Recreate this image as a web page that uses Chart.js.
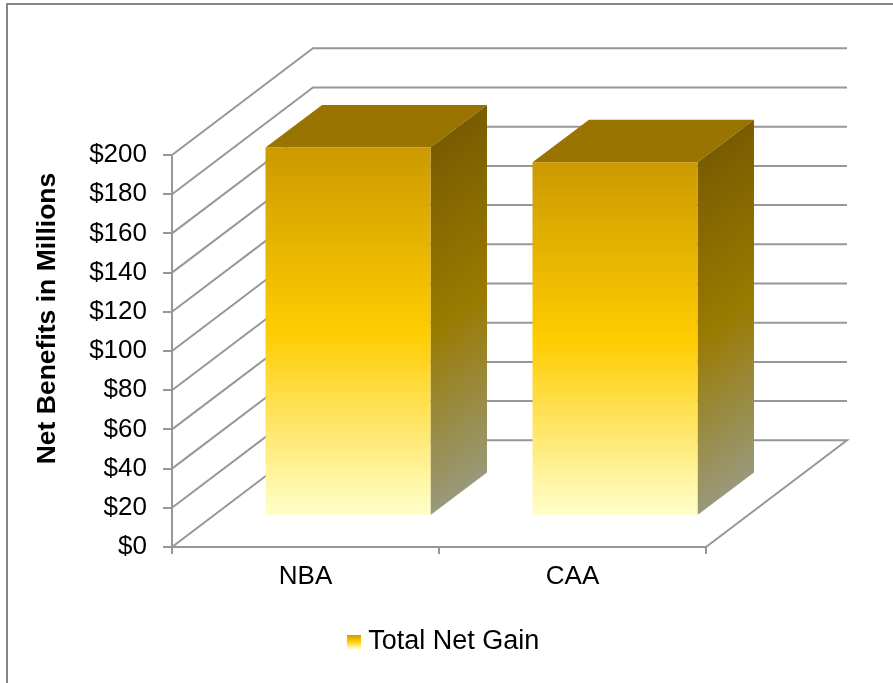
<!DOCTYPE html>
<html>
<head>
<meta charset="utf-8">
<title>Total Net Gain</title>
<script src="https://cdn.jsdelivr.net/npm/chart.js@4"></script>
<style>
  html, body { margin: 0; padding: 0; background: #fff; overflow: hidden; }
  #frame { position: absolute; left: 6px; top: 3px; right: 0; bottom: 0; border-left: 2px solid #868686; border-top: 2px solid #868686; }
  #myChart { position: absolute; left: 0; top: 0; }
</style>
</head>
<body>
<div id="frame"></div>
<canvas id="myChart" width="893" height="683"></canvas>
<script>
const categories = ['NBA', 'CAA'];
const netGain = [188, 180.5];
const seriesName = 'Total Net Gain';
const axisTitle = 'Net Benefits in Millions';

// 3D look of the old spreadsheet chart
const wallDepth = { x: 141, y: -106.7 };
const barShift = { x: 42.5, y: -31 };
const barDepth = { x: 56.5, y: -42.5 };
const gridColor = '#979797';
const labelFont = { family: '"Liberation Sans"', size: 26 };

function frontGradient(c, top, base) {
    const g = c.createLinearGradient(0, top, 0, base);
    g.addColorStop(0, '#cc9900');
    g.addColorStop(0.5, '#ffcc00');
    g.addColorStop(1, '#ffffcc');
    return g;
}

// legend swatch, the library draws it as a point style
const swatch = document.createElement('canvas');
swatch.width = 14;
swatch.height = 14;
const swatchCtx = swatch.getContext('2d');
swatchCtx.fillStyle = frontGradient(swatchCtx, 0, 14);
swatchCtx.fillRect(0, 0, 14, 14);

const walls = {
    id: 'walls',
    beforeDatasetsDraw(chart) {
        const c = chart.ctx;
        const area = chart.chartArea;
        const y = chart.scales.y;
        c.save();
        c.strokeStyle = gridColor;
        c.lineWidth = 2;
        y.ticks.forEach(t => {
            const py = y.getPixelForValue(t.value);
            c.beginPath();
            c.moveTo(area.left, py);
            c.lineTo(area.left + wallDepth.x, py + wallDepth.y);
            c.lineTo(area.right + wallDepth.x, py + wallDepth.y);
            if (t.value === 0) {
                c.lineTo(area.right, py);
            }
            c.stroke();
        });
        c.restore();
    }
};

const bars3d = {
    id: 'bars3d',
    beforeDatasetsDraw(chart) {
        const c = chart.ctx;
        const meta = chart.getDatasetMeta(0);
        c.save();
        // front faces are the library's own bars, moved the same way
        c.translate(barShift.x, barShift.y);
        meta.data.forEach(bar => {
            const p = bar.getProps(['x', 'y', 'base', 'width'], true);
            const right = p.x + p.width / 2;
            const left = p.x - p.width / 2;

            // top face
            c.fillStyle = '#997400';
            c.beginPath();
            c.moveTo(left, p.y);
            c.lineTo(left + barDepth.x, p.y + barDepth.y);
            c.lineTo(right + barDepth.x, p.y + barDepth.y);
            c.lineTo(right, p.y);
            c.closePath();
            c.fill();

            // side face, bands run parallel to the top edge
            const h = p.base - p.y;
            const sx = right + barDepth.x / 2;
            const sy = p.y + barDepth.y / 2;
            const side = c.createLinearGradient(sx, sy, sx + h * 0.48, sy + h * 0.64);
            side.addColorStop(0, '#7a5c00');
            side.addColorStop(0.5, '#997a00');
            side.addColorStop(1, '#99997a');
            c.fillStyle = side;
            c.beginPath();
            c.moveTo(right, p.y);
            c.lineTo(right + barDepth.x, p.y + barDepth.y);
            c.lineTo(right + barDepth.x, p.base + barDepth.y);
            c.lineTo(right, p.base);
            c.closePath();
            c.fill();
        });
    },
    afterDatasetsDraw(chart) {
        chart.ctx.restore();
    }
};

// axis title sits above the middle of the axis, the scale title can't do that
const yTitle = {
    id: 'yTitle',
    afterDraw(chart) {
        const c = chart.ctx;
        c.save();
        c.translate(48, 318.5);
        c.rotate(-Math.PI / 2);
        c.font = 'bold 26.5px "Liberation Sans"';
        c.fillStyle = '#000';
        c.textAlign = 'center';
        c.textBaseline = 'middle';
        c.fillText(axisTitle, 0, 0);
        c.restore();
    }
};

new Chart(document.getElementById('myChart').getContext('2d'), {
    type: 'bar',
    data: {
        labels: categories,
        datasets: [{
            label: seriesName,
            data: netGain,
            barPercentage: 0.618,
            categoryPercentage: 1,
            backgroundColor(ctx) {
                const chart = ctx.chart;
                if (!chart.chartArea || !ctx.parsed) return '#ffcc00';
                const y = chart.scales.y;
                return frontGradient(chart.ctx, y.getPixelForValue(ctx.parsed.y), y.getPixelForValue(0));
            }
        }]
    },
    plugins: [walls, bars3d, yTitle],
    options: {
        responsive: false,
        animation: false,
        layout: { padding: { top: 155, bottom: 18 } },
        plugins: {
            tooltip: { enabled: false },
            legend: {
                position: 'bottom',
                labels: {
                    color: '#000',
                    font: { family: '"Liberation Sans"', size: 27 },
                    usePointStyle: true,
                    pointStyle: swatch,
                    pointStyleWidth: 1,
                    boxHeight: 14,
                    padding: 10
                }
            }
        },
        scales: {
            x: {
                offset: true,
                grid: { drawOnChartArea: false, color: gridColor, lineWidth: 2, tickLength: 7 },
                border: { color: gridColor, width: 2 },
                ticks: { color: '#000', font: labelFont, padding: 7 },
                afterFit(s) { s.height = 71; }
            },
            y: {
                min: 0,
                max: 200,
                grid: { drawOnChartArea: false, color: gridColor, lineWidth: 2, tickLength: 9 },
                border: { color: gridColor, width: 2 },
                ticks: {
                    stepSize: 20,
                    color: '#000',
                    font: labelFont,
                    padding: 16,
                    callback: v => '$' + v
                },
                afterFit(s) { s.width = 172; }
            },
            // only keeps the room on the right for the back wall
            y2: {
                position: 'right',
                grid: { display: false },
                border: { display: false },
                ticks: { display: false },
                afterFit(s) { s.width = 187; }
            }
        }
    }
});
</script>
</body>
</html>
